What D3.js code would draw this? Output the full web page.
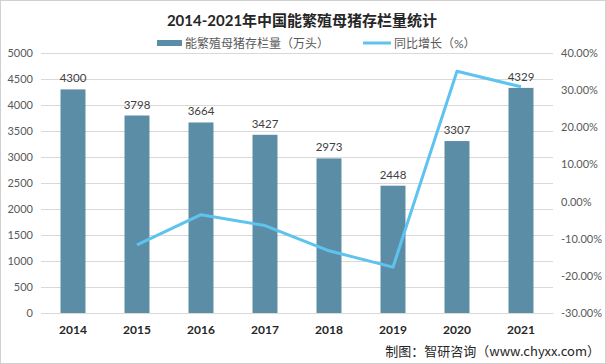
<!DOCTYPE html>
<html><head><meta charset="utf-8">
<script src="https://cdn.jsdelivr.net/npm/d3@7"></script>
<style>
html,body{margin:0;padding:0;background:#fff;}
svg{display:block;}
text{font-family:Lato,"Noto Sans CJK SC",sans-serif;}
</style></head>
<body>
<script>
const years = ["2014","2015","2016","2017","2018","2019","2020","2021"];
const stock = [4300,3798,3664,3427,2973,2448,3307,4329];
const growth = [null,-11.67,-3.53,-6.47,-13.25,-17.66,35.09,30.90];
const leftTicks = [0,500,1000,1500,2000,2500,3000,3500,4000,4500,5000];
const rightTicks = [-30,-20,-10,0,10,20,30,40];
const title = "2014-2021年中国能繁殖母猪存栏量统计";
const seriesNames = ["能繁殖母猪存栏量（万头）","同比增长（%）"];
const source = "制图：智研咨询（www.chyxx.com）";

const W=606,H=364;
const svg=d3.select("body").append("svg").attr("width",W).attr("height",H);
svg.append("rect").attr("x",0.5).attr("y",0.5).attr("width",W-1).attr("height",H-1)
  .attr("fill","#fff").attr("stroke","#d0d0d0");

const x=d3.scaleBand().domain(years).range([41,553]).paddingInner(0.61).paddingOuter(0.305);
const yL=d3.scaleLinear().domain([0,5000]).range([313,53]);
const yR=d3.scaleLinear().domain([-30,40]).range([313,53]);

// gridlines
svg.append("g").selectAll("line").data(leftTicks).join("line")
  .attr("x1",41).attr("x2",553).attr("y1",d=>yL(d)+0.5).attr("y2",d=>yL(d)+0.5)
  .attr("stroke","#d9d9d9").attr("stroke-width",1);

// left axis
const gl=svg.append("g").attr("transform","translate(41,0)")
  .call(d3.axisLeft(yL).tickValues(leftTicks).tickSize(0).tickPadding(8).tickFormat(d3.format("d")));
gl.select(".domain").remove();
gl.selectAll("text").attr("fill","#595959").style("font-size","11px").style("font-family","Lato,sans-serif");

// right axis
const gr=svg.append("g").attr("transform","translate(553,0)")
  .call(d3.axisRight(yR).tickValues(rightTicks).tickSize(0).tickPadding(8).tickFormat(d=>d.toFixed(2)+"%"));
gr.select(".domain").remove();
gr.selectAll("text").attr("fill","#595959").style("font-size","11px").style("font-family","Lato,sans-serif");

// bars
svg.append("g").selectAll("rect").data(years).join("rect")
  .attr("x",(d)=>x(d)).attr("width",x.bandwidth())
  .attr("y",(d,i)=>yL(stock[i])).attr("height",(d,i)=>yL(0)-yL(stock[i]))
  .attr("fill","#5b8ea6");

// bar labels
svg.append("g").selectAll("text").data(years).join("text")
  .attr("x",d=>x(d)+x.bandwidth()/2).attr("y",(d,i)=>yL(stock[i])-7)
  .attr("text-anchor","middle").attr("fill","#404040").style("font-size","11.5px")
  .text((d,i)=>stock[i]);

// x axis
const gx=svg.append("g").attr("transform","translate(0,313)")
  .call(d3.axisBottom(x).tickSize(0).tickPadding(12));
gx.select(".domain").attr("stroke","#d9d9d9");
gx.selectAll("text").attr("fill","#262626").style("font-size","12px").style("font-weight","bold").style("font-family","Lato,sans-serif");

// line
const pts=years.map((d,i)=>({d,v:growth[i]})).filter(p=>p.v!==null);
svg.append("path").datum(pts)
  .attr("d",d3.line().x(p=>x(p.d)+x.bandwidth()/2).y(p=>yR(p.v)))
  .attr("fill","none").attr("stroke","#5ec3ee").attr("stroke-width",3).attr("stroke-linejoin","round");

// title
svg.append("text").attr("x",302).attr("y",26).attr("text-anchor","middle")
  .attr("fill","#262626").style("font-size","15px").style("font-weight","bold")
  .style("font-family","Lato,'Noto Sans CJK SC',sans-serif").text(title);

// legend
const lg=svg.append("g").style("font-family","'Noto Sans CJK SC',sans-serif");
lg.append("rect").attr("x",157).attr("y",40).attr("width",25).attr("height",6).attr("fill","#5b8ea6");
lg.append("text").attr("x",185).attr("y",48).attr("fill","#595959").style("font-size","12px").text(seriesNames[0]);
lg.append("line").attr("x1",363).attr("x2",391).attr("y1",43).attr("y2",43).attr("stroke","#5ec3ee").attr("stroke-width",3);
lg.append("text").attr("x",394).attr("y",48).attr("fill","#595959").style("font-size","12px").text(seriesNames[1]);

// source
svg.append("text").attr("x",600).attr("y",356).attr("text-anchor","end")
  .attr("fill","#262626").style("font-size","13px").style("font-family","'Noto Sans CJK SC',sans-serif").text(source);
</script>
</body></html>
